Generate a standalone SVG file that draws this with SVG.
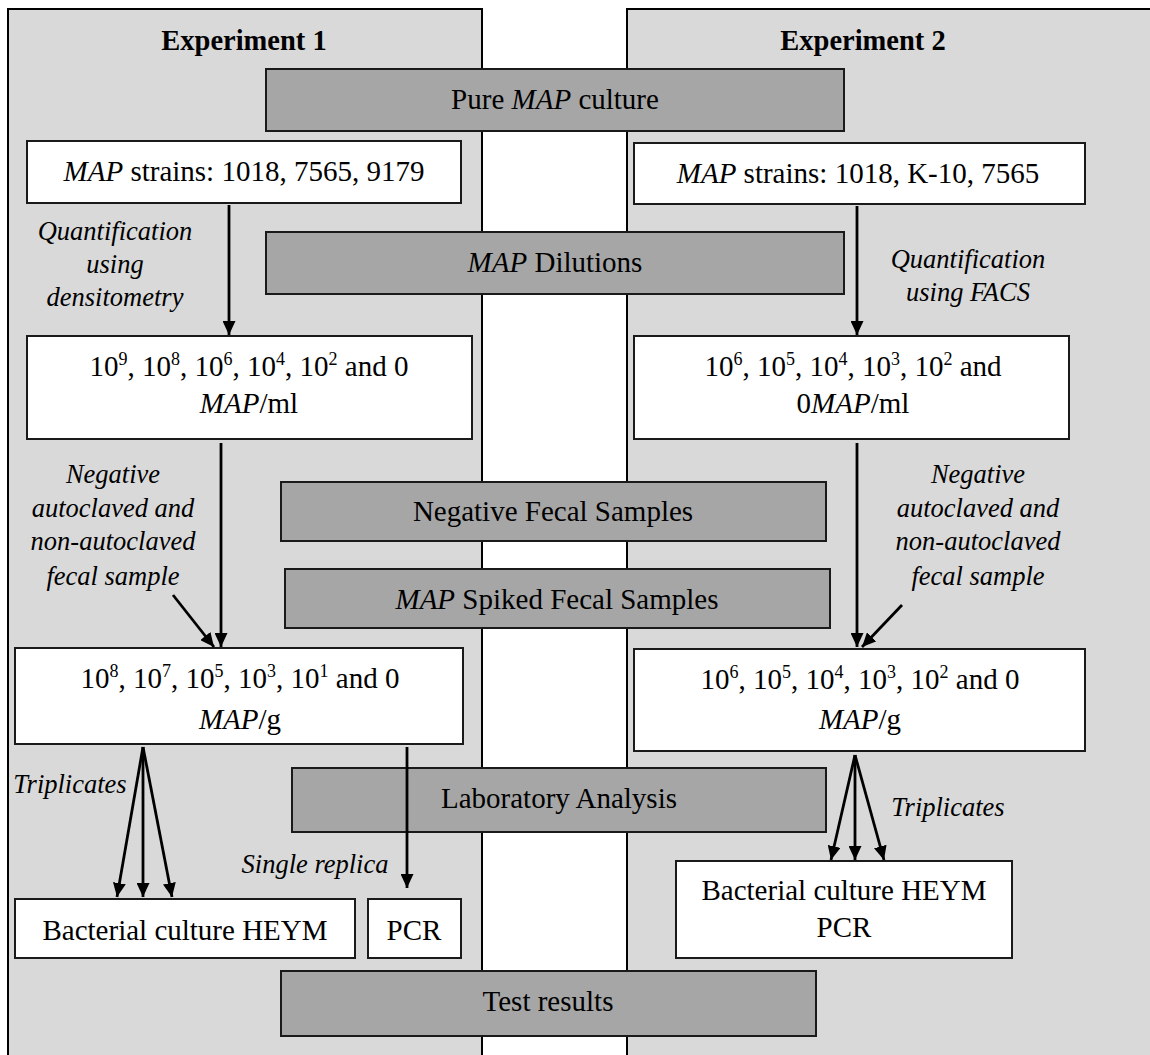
<svg xmlns="http://www.w3.org/2000/svg" width="1150" height="1055" viewBox="0 0 1150 1055">
<defs>
<style>
text{font-family:"Liberation Serif","Times New Roman",serif;font-size:29px;fill:#000;text-anchor:middle}
.title{font-weight:bold;font-size:28.5px}
.it{font-style:italic}
.lbl{font-style:italic;font-size:26.5px}
.sup{font-size:18px}
.panel{fill:#d9d9d9;stroke:#000;stroke-width:2}
.grey{fill:#a6a6a6;stroke:#1a1a1a;stroke-width:2}
.white{fill:#fff;stroke:#1a1a1a;stroke-width:2}
.conn line{stroke:#000;stroke-width:2.8;marker-end:url(#ah)}
</style>
<marker id="ah" markerUnits="userSpaceOnUse" markerWidth="14" markerHeight="13" refX="14" refY="6.5" orient="auto">
<path d="M0,0 L14,6.5 L0,13 z" fill="#000"/>
</marker>
</defs>
<rect width="1150" height="1055" fill="#fff"/>
<g id="panel1"><rect class="panel" x="8" y="9" width="474" height="1060"/><text class="title" x="244" y="50">Experiment 1</text></g>
<g id="panel2"><rect class="panel" x="627" y="9" width="540" height="1060"/><text class="title" x="863" y="50">Experiment 2</text></g>

<g id="pure"><rect class="grey" x="266" y="69" width="578" height="62"/><text x="555" y="109">Pure <tspan class="it">MAP</tspan> culture</text></g>
<g id="strains1"><rect class="white" x="27" y="141" width="434" height="62"/><text x="244" y="181"><tspan class="it">MAP</tspan> strains: 1018, 7565, 9179</text></g>
<g id="strains2"><rect class="white" x="634" y="143" width="451" height="61"/><text x="858" y="183"><tspan class="it">MAP</tspan> strains: 1018, K-10, 7565</text></g>
<g id="dilutions"><rect class="grey" x="266" y="232" width="578" height="62"/><text x="555" y="272"><tspan class="it">MAP</tspan> Dilutions</text></g>

<g id="quant1"><text class="lbl" x="115" y="240">Quantification</text><text class="lbl" x="115" y="273">using</text><text class="lbl" x="115" y="306">densitometry</text></g>
<g id="quant2"><text class="lbl" x="968" y="268">Quantification</text><text class="lbl" x="968" y="301">using FACS</text></g>

<g id="ml1"><rect class="white" x="27" y="336" width="445" height="103"/>
<text x="249" y="376">10<tspan class="sup" dy="-11">9</tspan><tspan dy="11">, 10</tspan><tspan class="sup" dy="-11">8</tspan><tspan dy="11">, 10</tspan><tspan class="sup" dy="-11">6</tspan><tspan dy="11">, 10</tspan><tspan class="sup" dy="-11">4</tspan><tspan dy="11">, 10</tspan><tspan class="sup" dy="-11">2</tspan><tspan dy="11"> and 0</tspan></text>
<text x="249" y="413"><tspan class="it">MAP</tspan>/ml</text></g>
<g id="ml2"><rect class="white" x="634" y="336" width="435" height="103"/>
<text x="853" y="376">10<tspan class="sup" dy="-11">6</tspan><tspan dy="11">, 10</tspan><tspan class="sup" dy="-11">5</tspan><tspan dy="11">, 10</tspan><tspan class="sup" dy="-11">4</tspan><tspan dy="11">, 10</tspan><tspan class="sup" dy="-11">3</tspan><tspan dy="11">, 10</tspan><tspan class="sup" dy="-11">2</tspan><tspan dy="11"> and</tspan></text>
<text x="853" y="413">0<tspan class="it">MAP</tspan>/ml</text></g>

<g id="neg1"><text class="lbl" x="113" y="483">Negative</text><text class="lbl" x="113" y="517">autoclaved and</text><text class="lbl" x="113" y="550">non-autoclaved</text><text class="lbl" x="113" y="585">fecal sample</text></g>
<g id="neg2"><text class="lbl" x="978" y="483">Negative</text><text class="lbl" x="978" y="517">autoclaved and</text><text class="lbl" x="978" y="550">non-autoclaved</text><text class="lbl" x="978" y="585">fecal sample</text></g>

<g id="negfecal"><rect class="grey" x="281" y="482" width="545" height="59"/><text x="553" y="521">Negative Fecal Samples</text></g>
<g id="spiked"><rect class="grey" x="285" y="569" width="545" height="59"/><text x="557" y="609"><tspan class="it">MAP</tspan> Spiked Fecal Samples</text></g>

<g id="g1"><rect class="white" x="15" y="648" width="448" height="96"/>
<text x="240" y="688">10<tspan class="sup" dy="-11">8</tspan><tspan dy="11">, 10</tspan><tspan class="sup" dy="-11">7</tspan><tspan dy="11">, 10</tspan><tspan class="sup" dy="-11">5</tspan><tspan dy="11">, 10</tspan><tspan class="sup" dy="-11">3</tspan><tspan dy="11">, 10</tspan><tspan class="sup" dy="-11">1</tspan><tspan dy="11"> and 0</tspan></text>
<text x="240" y="729"><tspan class="it">MAP</tspan>/g</text></g>
<g id="g2"><rect class="white" x="634" y="649" width="451" height="102"/>
<text x="860" y="689">10<tspan class="sup" dy="-11">6</tspan><tspan dy="11">, 10</tspan><tspan class="sup" dy="-11">5</tspan><tspan dy="11">, 10</tspan><tspan class="sup" dy="-11">4</tspan><tspan dy="11">, 10</tspan><tspan class="sup" dy="-11">3</tspan><tspan dy="11">, 10</tspan><tspan class="sup" dy="-11">2</tspan><tspan dy="11"> and 0</tspan></text>
<text x="860" y="729"><tspan class="it">MAP</tspan>/g</text></g>

<g id="lab"><rect class="grey" x="292" y="768" width="534" height="64"/><text x="559" y="808">Laboratory Analysis</text></g>

<g id="trip1"><text class="lbl" x="70" y="793">Triplicates</text></g>
<g id="single"><text class="lbl" x="315" y="873">Single replica</text></g>
<g id="trip2"><text class="lbl" x="948" y="816">Triplicates</text></g>

<g id="bact1"><rect class="white" x="15" y="899" width="340" height="59"/><text x="185" y="940">Bacterial culture HEYM</text></g>
<g id="pcr1"><rect class="white" x="368" y="899" width="93" height="59"/><text x="414" y="940">PCR</text></g>
<g id="bact2"><rect class="white" x="676" y="861" width="336" height="97"/><text x="844" y="900">Bacterial culture HEYM</text><text x="844" y="937">PCR</text></g>

<g id="results"><rect class="grey" x="281" y="971" width="535" height="65"/><text x="548" y="1011">Test results</text></g>

<g id="connectors" class="conn">
<line x1="229" y1="205" x2="229" y2="335"/>
<line x1="857" y1="206" x2="857" y2="335"/>
<line x1="221" y1="443" x2="221" y2="647"/>
<line x1="173" y1="595" x2="214" y2="647"/>
<line x1="857" y1="443" x2="857" y2="647"/>
<line x1="902" y1="605" x2="862" y2="647"/>
<line x1="143" y1="747" x2="117" y2="897"/>
<line x1="143" y1="747" x2="143" y2="897"/>
<line x1="143" y1="747" x2="172" y2="897"/>
<line x1="407" y1="747" x2="407" y2="888"/>
<line x1="855" y1="755" x2="831" y2="860"/>
<line x1="855" y1="755" x2="855" y2="860"/>
<line x1="855" y1="755" x2="884" y2="860"/>
</g>
</svg>
